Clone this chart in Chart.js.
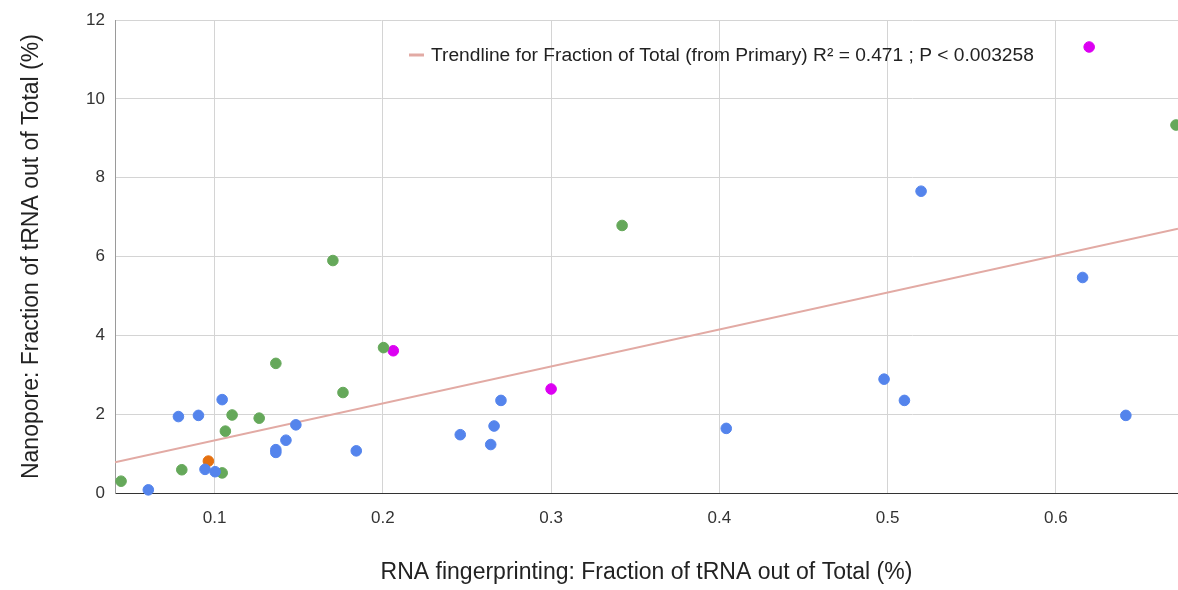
<!DOCTYPE html>
<html>
<head>
<meta charset="utf-8">
<script src="https://cdn.jsdelivr.net/npm/chart.js@4/dist/chart.umd.min.js"></script>
<style>
  html, body { margin: 0; padding: 0; background: #ffffff; }
  #wrap { width: 1178px; height: 590px; }
</style>
</head>
<body>
<div id="wrap"><canvas id="c" width="1178" height="590"></canvas></div>
<script>
// ---- Data ----
const blueX = [0.0606, 0.0785, 0.0904, 0.1045, 0.0943, 0.1003, 0.1364, 0.1364, 0.1424, 0.1483, 0.1842, 0.2460, 0.2641, 0.2661, 0.2702, 0.4041, 0.4979, 0.5100, 0.5199, 0.6159, 0.6416];
const blueY = [0.08, 1.94, 1.97, 2.37, 0.60, 0.54, 1.10, 1.03, 1.34, 1.73, 1.07, 1.48, 1.23, 1.70, 2.35, 1.64, 2.89, 2.35, 7.66, 5.47, 1.97];

const greenX = [0.0444, 0.0805, 0.1045, 0.1064, 0.1104, 0.1265, 0.1364, 0.1703, 0.1763, 0.2004, 0.3422, 0.6714];
const greenY = [0.30, 0.59, 0.51, 1.57, 1.98, 1.90, 3.29, 5.90, 2.55, 3.69, 6.79, 9.34];

const orangeX = [0.0963];
const orangeY = [0.81];

const magentaX = [0.2062, 0.3000, 0.6198];
const magentaY = [3.61, 2.64, 11.32];

// Trendline endpoints
const trendX = [0.0408, 0.6726];
const trendY = [0.78, 6.71];
const trendLabel = 'Trendline for Fraction of Total (from Primary) R\u00B2 = 0.471 ; P < 0.003258';

const xTitle = 'RNA fingerprinting: Fraction of tRNA out of Total (%)';
const yTitle = 'Nanopore: Fraction of tRNA out of Total (%)';

const xMin = 0.0408, xMax = 0.6726;
const yMin = 0, yMax = 12;

function pts(xs, ys) { return xs.map((x, i) => ({ x: x, y: ys[i] })); }

const FONT = "'Liberation Sans', Arial, sans-serif";

const legendPlugin = {
  id: 'insideLegend',
  afterDraw(chart) {
    const ds = chart.data.datasets.find(d => d.isTrend);
    if (!ds) return;
    const ctx = chart.ctx;
    ctx.save();
    const y = 55;
    ctx.strokeStyle = ds.borderColor;
    ctx.lineWidth = 3;
    ctx.beginPath();
    ctx.moveTo(409, y);
    ctx.lineTo(424, y);
    ctx.stroke();
    ctx.fillStyle = '#222222';
    ctx.font = '19.2px ' + FONT;
    ctx.textBaseline = 'middle';
    ctx.textAlign = 'left';
    ctx.fillText(ds.label, 431, y + 1);
    ctx.restore();
  }
};

new Chart(document.getElementById('c'), {
  type: 'scatter',
  data: {
    datasets: [
      { label: 'Blue', data: pts(blueX, blueY), backgroundColor: '#5484ec', borderColor: '#5484ec', pointRadius: 5.3, pointHoverRadius: 5.3, order: 1, clip: false },
      { label: 'Green', data: pts(greenX, greenY), backgroundColor: '#65a85a', borderColor: '#65a85a', pointRadius: 5.3, pointHoverRadius: 5.3, order: 1, clip: false },
      { label: 'Orange', data: pts(orangeX, orangeY), backgroundColor: '#e5700f', borderColor: '#e5700f', pointRadius: 5.3, pointHoverRadius: 5.3, order: 1, clip: false },
      { label: 'Magenta', data: pts(magentaX, magentaY), backgroundColor: '#dc00f2', borderColor: '#dc00f2', pointRadius: 5.3, pointHoverRadius: 5.3, order: 1, clip: false },
      { label: trendLabel, isTrend: true, data: pts(trendX, trendY), showLine: true, borderColor: '#e2aaa4', borderWidth: 2, pointRadius: 0, pointHoverRadius: 0, fill: false, order: 5 }
    ]
  },
  options: {
    responsive: false,
    animation: false,
    events: [],
    layout: { autoPadding: false, padding: { top: 16.5, right: 0, bottom: 0, left: 0 } },
    plugins: {
      legend: { display: false },
      tooltip: { enabled: false }
    },
    scales: {
      x: {
        type: 'linear',
        min: xMin,
        max: xMax,
        afterFit(scale) { scale.height = 97; },
        grid: { color: '#d4d4d4', lineWidth: 1, drawTicks: false },
        border: { color: '#333333', width: 1 },
        ticks: {
          stepSize: 0.1,
          includeBounds: false,
          padding: 15,
          color: '#333333',
          font: { family: FONT, size: 17 },
          callback: v => (Math.round(v * 10) / 10).toFixed(1)
        },
        title: {
          display: true,
          text: xTitle,
          color: '#222222',
          font: { family: FONT, size: 23 },
          padding: { top: 0, bottom: 4 }
        }
      },
      y: {
        type: 'linear',
        min: yMin,
        max: yMax,
        afterFit(scale) { scale.width = 115; },
        grid: { color: '#d4d4d4', lineWidth: 1, drawTicks: false },
        border: { color: '#9a9a9a', width: 1 },
        ticks: {
          stepSize: 2,
          padding: 10,
          color: '#333333',
          font: { family: FONT, size: 17 }
        },
        title: {
          display: true,
          text: yTitle,
          color: '#222222',
          font: { family: FONT, size: 23 },
          padding: { top: 18, bottom: 0 }
        }
      }
    }
  },
  plugins: [legendPlugin]
});
</script>
</body>
</html>
